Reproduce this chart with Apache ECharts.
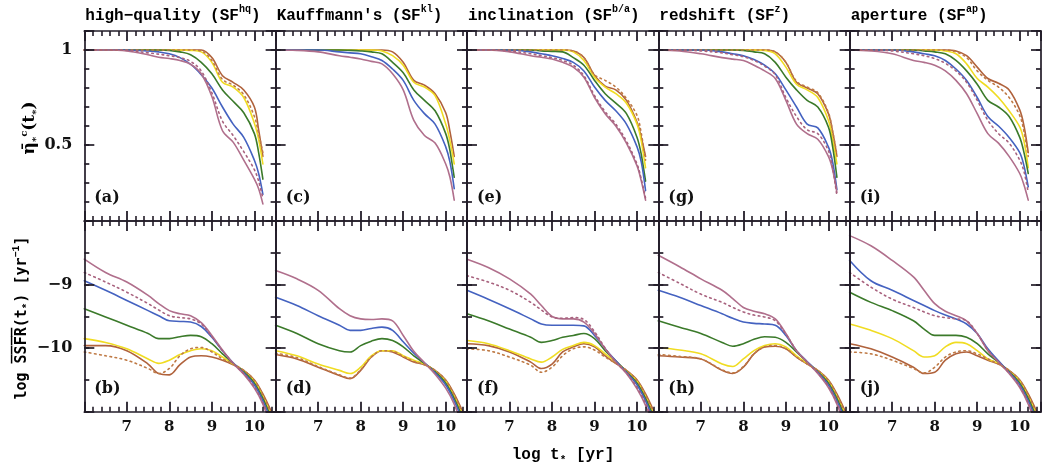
<!DOCTYPE html>
<html><head><meta charset="utf-8">
<script src="https://cdn.jsdelivr.net/npm/echarts@6/dist/echarts.min.js"></script>
<style>html,body{margin:0;padding:0;background:#fff}#c{width:1042px;height:470px}</style>
</head><body><div id="c"></div>
<script>
// ---------- DATA ----------
const TITLE_MAIN = ['high\u2212quality', "Kauffmann's", 'inclination', 'redshift', 'aperture'];
const TITLE_SUP = ['hq', 'kl', 'b/a', 'z', 'ap'];
const TOP_LETTERS = ['(a)', '(c)', '(e)', '(g)', '(i)'];
const BOT_LETTERS = ['(b)', '(d)', '(f)', '(h)', '(j)'];
const X_LABELS = [7, 8, 9, 10];
const TOP_Y_LABELS = [0.5, 1];
const BOT_Y_LABELS = [-10, -9];

const TOP_X = [6, 6.5, 7, 7.5, 7.75, 8, 8.25, 8.5, 8.75, 9, 9.25, 9.5, 9.75, 10, 10.1, 10.2];
const BOT_X = [6, 6.5, 7, 7.5, 7.75, 8, 8.25, 8.5, 8.75, 9, 9.25, 9.5, 9.75, 10, 10.2, 10.4];

// (a) high-quality, mass fraction
const a_mauve = [1,1,0.995,0.975,0.962,0.955,0.945,0.925,0.875,0.755,0.575,0.515,0.42,0.32,0.27,0.19];
const a_dotMauve = [1,1,0.998,0.985,0.978,0.97,0.96,0.94,0.89,0.775,0.625,0.55,0.465,0.37,0.31,0.22];
const a_blue = [1,1,1,0.995,0.99,0.98,0.96,0.925,0.87,0.80,0.70,0.61,0.54,0.42,0.35,0.24];
const a_green = [1,1,1,1,1,0.998,0.99,0.975,0.935,0.875,0.79,0.73,0.67,0.56,0.46,0.32];
const a_yellow = [1,1,1,1,1,1,1,0.998,0.99,0.935,0.83,0.805,0.75,0.615,0.53,0.40];
const a_dotOrange = [1,1,1,1,1,1,1,1,0.995,0.945,0.845,0.815,0.765,0.65,0.56,0.46];
const a_brown = [1,1,1,1,1,1,1,1,1,0.96,0.865,0.83,0.79,0.70,0.58,0.44];
// (c) Kauffmann's
const c_mauve = [1,0.998,0.99,0.97,0.962,0.953,0.94,0.927,0.875,0.79,0.63,0.55,0.51,0.40,0.33,0.21];
const c_blue = [1,1,1,0.99,0.985,0.98,0.965,0.945,0.90,0.84,0.735,0.665,0.61,0.49,0.41,0.27];
const c_green = [1,1,1,1,0.998,0.995,0.99,0.98,0.935,0.88,0.79,0.735,0.68,0.56,0.47,0.33];
const c_yellow = [1,1,1,1,1,1,1,0.995,0.97,0.92,0.83,0.805,0.76,0.61,0.52,0.40];
const c_brown = [1,1,1,1,1,1,1,1,0.99,0.935,0.84,0.815,0.77,0.67,0.57,0.44];
// (e) inclination
const e_mauve = [1,1,0.99,0.97,0.962,0.953,0.935,0.91,0.857,0.75,0.665,0.60,0.51,0.39,0.31,0.21];
const e_dotMauve = [1,1,0.995,0.98,0.97,0.96,0.945,0.92,0.865,0.76,0.675,0.61,0.52,0.40,0.32,0.22];
const e_blue = [1,1,1,0.99,0.98,0.97,0.955,0.935,0.89,0.805,0.735,0.68,0.61,0.49,0.41,0.26];
const e_green = [1,1,1,1,0.995,0.993,0.99,0.96,0.92,0.84,0.77,0.72,0.665,0.54,0.45,0.31];
const e_yellow = [1,1,1,1,1,1,1,0.99,0.945,0.857,0.805,0.77,0.72,0.61,0.52,0.38];
const e_dotOrange = [1,1,1,1,1,1,1,0.995,0.96,0.87,0.84,0.805,0.745,0.655,0.56,0.42];
const e_brown = [1,1,1,1,1,1,1,0.995,0.96,0.866,0.81,0.79,0.735,0.62,0.54,0.44];
// (g) redshift
const g_mauve = [1,0.995,0.98,0.96,0.952,0.945,0.92,0.89,0.85,0.735,0.61,0.56,0.53,0.44,0.37,0.25];
const g_dotMauve = [1,1,0.995,0.985,0.975,0.965,0.945,0.915,0.87,0.75,0.65,0.58,0.56,0.47,0.38,0.23];
const g_blue = [1,1,1,0.99,0.98,0.97,0.95,0.92,0.875,0.79,0.70,0.61,0.59,0.49,0.41,0.265];
const g_green = [1,1,1,1,1,0.998,0.99,0.98,0.935,0.857,0.79,0.735,0.70,0.595,0.49,0.33];
const g_yellow = [1,1,1,1,1,1,1,0.998,0.98,0.91,0.82,0.79,0.75,0.63,0.53,0.40];
const g_dotOrange = [1,1,1,1,1,1,1,1,0.99,0.935,0.835,0.805,0.775,0.67,0.57,0.45];
const g_brown = [1,1,1,1,1,1,1,1,0.99,0.935,0.83,0.80,0.77,0.665,0.57,0.44];
// (i) aperture
const i_mauve = [1,0.995,0.98,0.945,0.935,0.92,0.89,0.84,0.77,0.665,0.56,0.51,0.44,0.35,0.29,0.21];
const i_dotMauve = [1,1,0.995,0.98,0.97,0.955,0.93,0.89,0.83,0.735,0.63,0.56,0.51,0.42,0.36,0.25];
const i_blue = [1,1,1,0.99,0.98,0.97,0.945,0.90,0.84,0.75,0.65,0.60,0.54,0.46,0.39,0.28];
const i_green = [1,1,1,1,0.995,0.99,0.98,0.945,0.89,0.82,0.735,0.70,0.65,0.54,0.46,0.35];
const i_yellow = [1,1,1,1,1,1,0.995,0.98,0.927,0.85,0.805,0.75,0.68,0.595,0.52,0.38];
const i_dotOrange = [1,1,1,1,1,1,1,0.99,0.96,0.89,0.84,0.805,0.75,0.655,0.57,0.44];
const i_brown = [1,1,1,1,1,1,1,0.995,0.97,0.91,0.85,0.825,0.79,0.685,0.60,0.46];

// (b) high-quality, log SSFR
const b_mauve = [-8.60,-8.81,-8.96,-9.17,-9.30,-9.41,-9.46,-9.49,-9.60,-9.80,-10.03,-10.24,-10.41,-10.63,-10.88,-11.25];
const b_dotMauve = [-8.81,-8.96,-9.12,-9.30,-9.40,-9.49,-9.52,-9.54,-9.62,-9.82,-10.04,-10.24,-10.40,-10.61,-10.86,-11.20];
const b_blue = [-8.94,-9.09,-9.25,-9.41,-9.49,-9.57,-9.58,-9.59,-9.66,-9.83,-10.04,-10.23,-10.39,-10.58,-10.83,-11.15];
const b_green = [-9.38,-9.51,-9.64,-9.77,-9.85,-9.85,-9.82,-9.80,-9.82,-9.93,-10.09,-10.24,-10.37,-10.55,-10.79,-11.10];
const b_yellow = [-9.85,-9.91,-10.01,-10.17,-10.24,-10.19,-10.10,-10.04,-10.01,-10.04,-10.14,-10.25,-10.36,-10.52,-10.76,-11.05];
const b_dotOrange = [-10.06,-10.12,-10.19,-10.32,-10.40,-10.32,-10.12,-10.01,-9.99,-10.06,-10.17,-10.25,-10.35,-10.51,-10.74,-11.03];
const b_brown = [-9.96,-9.96,-10.04,-10.25,-10.40,-10.42,-10.26,-10.14,-10.12,-10.14,-10.19,-10.26,-10.35,-10.50,-10.72,-11.00];
// (d) Kauffmann's
const d_mauve = [-8.78,-8.91,-9.09,-9.38,-9.49,-9.54,-9.55,-9.54,-9.57,-9.80,-10.05,-10.23,-10.41,-10.63,-10.88,-11.25];
const d_blue = [-9.20,-9.33,-9.49,-9.64,-9.72,-9.72,-9.69,-9.67,-9.72,-9.90,-10.08,-10.23,-10.39,-10.58,-10.83,-11.15];
const d_green = [-9.64,-9.77,-9.93,-10.04,-10.06,-9.96,-9.89,-9.85,-9.88,-9.98,-10.12,-10.24,-10.37,-10.55,-10.79,-11.10];
const d_yellow = [-10.04,-10.12,-10.25,-10.35,-10.40,-10.30,-10.12,-10.04,-10.04,-10.12,-10.19,-10.25,-10.36,-10.52,-10.76,-11.05];
const d_dotOrange = [-10.08,-10.15,-10.29,-10.42,-10.47,-10.34,-10.14,-10.04,-10.05,-10.13,-10.21,-10.26,-10.35,-10.51,-10.74,-11.03];
const d_brown = [-10.10,-10.17,-10.30,-10.43,-10.48,-10.35,-10.14,-10.04,-10.06,-10.14,-10.22,-10.26,-10.35,-10.50,-10.72,-11.00];
// (f) inclination
const f_mauve = [-8.60,-8.73,-8.91,-9.15,-9.33,-9.50,-9.54,-9.54,-9.59,-9.77,-10.01,-10.22,-10.40,-10.64,-10.90,-11.25];
const f_dotMauve = [-8.86,-8.96,-9.09,-9.28,-9.40,-9.51,-9.53,-9.52,-9.55,-9.74,-10.00,-10.22,-10.39,-10.62,-10.87,-11.20];
const f_blue = [-9.09,-9.23,-9.38,-9.54,-9.62,-9.64,-9.64,-9.64,-9.65,-9.80,-10.01,-10.20,-10.38,-10.58,-10.83,-11.15];
const f_green = [-9.46,-9.57,-9.70,-9.83,-9.91,-9.88,-9.83,-9.80,-9.77,-9.85,-10.04,-10.20,-10.37,-10.55,-10.79,-11.10];
const f_yellow = [-9.88,-9.93,-10.04,-10.17,-10.22,-10.14,-10.02,-9.96,-9.91,-9.96,-10.09,-10.22,-10.36,-10.52,-10.76,-11.05];
const f_dotOrange = [-10.01,-10.04,-10.14,-10.27,-10.38,-10.30,-10.12,-10.01,-9.98,-10.03,-10.14,-10.24,-10.35,-10.51,-10.74,-11.03];
const f_brown = [-9.93,-9.96,-10.06,-10.22,-10.32,-10.25,-10.06,-9.98,-9.93,-9.98,-10.12,-10.24,-10.35,-10.50,-10.72,-11.00];
// (h) redshift
const h_mauve = [-8.54,-8.72,-8.91,-9.09,-9.22,-9.36,-9.42,-9.46,-9.54,-9.77,-10.04,-10.22,-10.40,-10.62,-10.88,-11.25];
const h_dotMauve = [-8.81,-8.98,-9.15,-9.28,-9.36,-9.43,-9.48,-9.51,-9.57,-9.78,-10.04,-10.22,-10.39,-10.60,-10.86,-11.20];
const h_blue = [-9.09,-9.20,-9.33,-9.46,-9.53,-9.59,-9.61,-9.62,-9.64,-9.80,-10.04,-10.21,-10.38,-10.58,-10.83,-11.15];
const h_green = [-9.57,-9.67,-9.77,-9.91,-9.97,-9.93,-9.86,-9.82,-9.83,-9.91,-10.06,-10.22,-10.37,-10.55,-10.79,-11.10];
const h_yellow = [-9.99,-10.03,-10.09,-10.25,-10.29,-10.17,-10.04,-9.96,-9.93,-9.98,-10.12,-10.24,-10.36,-10.52,-10.76,-11.05];
const h_dotOrange = [-10.10,-10.13,-10.17,-10.34,-10.39,-10.29,-10.09,-9.98,-9.96,-10.01,-10.14,-10.25,-10.35,-10.51,-10.74,-11.03];
const h_brown = [-10.12,-10.14,-10.17,-10.35,-10.40,-10.30,-10.09,-9.98,-9.97,-10.01,-10.14,-10.25,-10.35,-10.50,-10.72,-11.00];
// (j) aperture
const j_mauve = [-8.23,-8.39,-8.62,-8.88,-9.09,-9.30,-9.42,-9.49,-9.57,-9.77,-10.04,-10.22,-10.40,-10.62,-10.88,-11.25];
const j_dotMauve = [-8.81,-9.04,-9.23,-9.36,-9.43,-9.49,-9.52,-9.54,-9.57,-9.77,-10.03,-10.22,-10.39,-10.60,-10.86,-11.20];
const j_blue = [-8.62,-8.94,-9.09,-9.25,-9.33,-9.41,-9.48,-9.54,-9.62,-9.77,-10.01,-10.20,-10.38,-10.58,-10.83,-11.15];
const j_green = [-9.12,-9.28,-9.41,-9.57,-9.70,-9.80,-9.80,-9.80,-9.83,-9.93,-10.09,-10.22,-10.37,-10.55,-10.79,-11.10];
const j_yellow = [-9.62,-9.72,-9.85,-10.04,-10.14,-10.12,-9.98,-9.91,-9.93,-10.04,-10.17,-10.24,-10.36,-10.52,-10.76,-11.05];
const j_dotOrange = [-10.06,-10.09,-10.19,-10.32,-10.39,-10.30,-10.14,-10.06,-10.04,-10.09,-10.17,-10.25,-10.35,-10.51,-10.74,-11.03];
const j_brown = [-9.93,-10.01,-10.14,-10.30,-10.40,-10.38,-10.19,-10.09,-10.06,-10.12,-10.19,-10.25,-10.35,-10.50,-10.72,-11.00];

// ---------- BUILD ----------
const TOP_PANELS = [
  {brown:a_brown, dotOrange:a_dotOrange, yellow:a_yellow, green:a_green, blue:a_blue, mauve:a_mauve, dotMauve:a_dotMauve},
  {brown:c_brown, yellow:c_yellow, green:c_green, blue:c_blue, mauve:c_mauve},
  {brown:e_brown, dotOrange:e_dotOrange, yellow:e_yellow, green:e_green, blue:e_blue, mauve:e_mauve, dotMauve:e_dotMauve},
  {brown:g_brown, dotOrange:g_dotOrange, yellow:g_yellow, green:g_green, blue:g_blue, mauve:g_mauve, dotMauve:g_dotMauve},
  {brown:i_brown, dotOrange:i_dotOrange, yellow:i_yellow, green:i_green, blue:i_blue, mauve:i_mauve, dotMauve:i_dotMauve}
];
const BOT_PANELS = [
  {brown:b_brown, dotOrange:b_dotOrange, yellow:b_yellow, green:b_green, blue:b_blue, mauve:b_mauve, dotMauve:b_dotMauve},
  {brown:d_brown, dotOrange:d_dotOrange, yellow:d_yellow, green:d_green, blue:d_blue, mauve:d_mauve},
  {brown:f_brown, dotOrange:f_dotOrange, yellow:f_yellow, green:f_green, blue:f_blue, mauve:f_mauve, dotMauve:f_dotMauve},
  {brown:h_brown, dotOrange:h_dotOrange, yellow:h_yellow, green:h_green, blue:h_blue, mauve:h_mauve, dotMauve:h_dotMauve},
  {brown:j_brown, dotOrange:j_dotOrange, yellow:j_yellow, green:j_green, blue:j_blue, mauve:j_mauve, dotMauve:j_dotMauve}
];

const STYLE = {
  brown:     {color:'#b0623c', type:'solid'},
  dotOrange: {color:'#bf7a45', type:[1.6,3.6]},
  yellow:    {color:'#f0dc22', type:'solid'},
  green:     {color:'#3b7a2a', type:'solid'},
  blue:      {color:'#4462c0', type:'solid'},
  mauve:     {color:'#b06f8c', type:'solid'},
  dotMauve:  {color:'#a8627e', type:[1.6,3.6]}
};
const ORDER = ['brown','yellow','green','blue','mauve','dotOrange','dotMauve'];

const FRAME = '#221c28';
const L0 = 84.3, W = 191.34;
const ROW_TOP = [31, 221], ROW_H = [190, 190.7];
const LABEL_FONT = 'DejaVu Serif';
const MONO = 'Liberation Mono';

function mkX(gi, pos, labels) {
  return {
    type: 'value', gridIndex: gi, min: 6, max: 10.5, interval: 1, position: pos, z: 5,
    axisLine: {show: true, onZero: false, lineStyle: {color: FRAME, width: 1.7}},
    axisTick: {show: true, inside: true, length: 10, lineStyle: {color: FRAME, width: 1.8}},
    minorTick: {show: true, splitNumber: 5, length: 5, lineStyle: {color: FRAME, width: 1.6}},
    axisLabel: labels ? {show: true, customValues: labels, margin: 8, color: '#111',
      fontFamily: LABEL_FONT, fontWeight: 'bold', fontSize: 15} : {show: false},
    splitLine: {show: false}, minorSplitLine: {show: false}
  };
}
function mkY(gi, pos, min, max, interval, len, labels, showLine) {
  return {
    type: 'value', gridIndex: gi, min: min, max: max, interval: interval, position: pos, z: 5,
    axisLine: {show: showLine, onZero: false, lineStyle: {color: FRAME, width: 1.7}},
    axisTick: {show: true, inside: true, length: len, lineStyle: {color: FRAME, width: 1.7}},
    axisLabel: labels ? {show: true, customValues: labels, margin: 12, color: '#111',
      fontFamily: LABEL_FONT, fontWeight: 'bold', fontSize: 16,
      formatter: v => String(v).replace('-', '\u2212')} : {show: false},
    splitLine: {show: false}
  };
}

const grids = [], xAxes = [], yAxes = [], series = [], graphics = [];
for (let r = 0; r < 2; r++) {
  for (let c = 0; c < 5; c++) {
    const gi = grids.length;
    grids.push({left: L0 + c * W, top: ROW_TOP[r], width: W, height: ROW_H[r]});
    const xi = xAxes.length, yi = yAxes.length;
    xAxes.push(mkX(gi, 'bottom', (r === 1) ? X_LABELS : null));
    xAxes.push(mkX(gi, 'top', null));
    if (r === 0) {
      yAxes.push(mkY(gi, 'left', 0.1, 1.1, 0.1, 5, null, true));
      yAxes.push(mkY(gi, 'right', 0.1, 1.1, 0.1, 5, null, true));
    } else {
      const yLab = c === 0 ? BOT_Y_LABELS : null;
      yAxes.push(mkY(gi, 'left', -11, -8, 1, 10, yLab, true));
      yAxes.push(mkY(gi, 'right', -11, -8, 1, 10, null, true));
      yAxes.push(mkY(gi, 'left', -11, -8, 0.5, 5, null, false));
      yAxes.push(mkY(gi, 'right', -11, -8, 0.5, 5, null, false));
    }

    const panel = r === 0 ? TOP_PANELS[c] : BOT_PANELS[c];
    const X = r === 0 ? TOP_X : BOT_X;
    ORDER.forEach(key => {
      if (!panel[key]) return;
      const ys = panel[key];
      series.push({
        type: 'line', xAxisIndex: xi, yAxisIndex: yi, smooth: 0.35, showSymbol: false,
        lineStyle: {color: STYLE[key].color, width: 1.6, type: STYLE[key].type, cap: 'round'},
        data: X.map((x, k) => [x, ys[k]])
      });
    });

    graphics.push({type: 'text', left: L0 + c * W + 10, top: ROW_TOP[r] + ROW_H[r] - 31,
      style: {text: r === 0 ? TOP_LETTERS[c] : BOT_LETTERS[c], fill: '#111',
        font: 'bold 16px "DejaVu Serif"'}});
  }
}
// Top row major ticks at 0.5 and 1: overlay grid covering values 0.5..1.1 so the axis min is a multiple of 0.5
for (let c = 0; c < 5; c++) {
  const gi = grids.length;
  grids.push({left: L0 + c * W, top: ROW_TOP[0], width: W, height: ROW_H[0] * 0.6});
  xAxes.push({type: 'value', gridIndex: gi, min: 6, max: 10.5, show: false});
  yAxes.push(mkY(gi, 'left', 0.5, 1.1, 0.5, 10, c === 0 ? TOP_Y_LABELS : null, false));
  yAxes.push(mkY(gi, 'right', 0.5, 1.1, 0.5, 10, null, false));
}

const monoRich = {
  t: {fontFamily: MONO, fontWeight: 'bold', fontSize: 16, lineHeight: 20, verticalAlign: 'bottom', color: '#111'},
  s: {fontFamily: MONO, fontWeight: 'bold', fontSize: 10, lineHeight: 12, verticalAlign: 'top', color: '#111'}
};
for (let c = 0; c < 5; c++) {
  graphics.push({type: 'text', left: L0 + c * W + 1, top: 4,
    style: {text: '{t|' + TITLE_MAIN[c] + ' (SF}{s|' + TITLE_SUP[c] + '}{t|)}', rich: monoRich}});
}
graphics.push({type: 'text', x: 30, y: 128, rotation: Math.PI / 2,
  style: {text: '{e|\u03B7\u0304}{b|*}{s|c}{e|(t}{b|*}{e|)}', align: 'center', verticalAlign: 'middle',
    rich: {
      e: {fontFamily: 'DejaVu Serif', fontWeight: 'bold', fontSize: 17, lineHeight: 22, verticalAlign: 'middle', color: '#111'},
      s: {fontFamily: 'DejaVu Serif', fontWeight: 'bold', fontSize: 10, lineHeight: 12, verticalAlign: 'top', color: '#111'},
      b: {fontFamily: 'DejaVu Serif', fontWeight: 'bold', fontSize: 10, lineHeight: 12, verticalAlign: 'bottom', color: '#111'}
    }}});
graphics.push({type: 'text', x: 22, y: 318, rotation: Math.PI / 2,
  style: {text: '{m|log S\u0305S\u0305F\u0305R\u0305(t}{b|*}{m|) [yr}{s|\u22121}{m|]}', align: 'center', verticalAlign: 'middle',
    rich: {
      m: {fontFamily: 'DejaVu Sans Mono', fontWeight: 'bold', fontSize: 15, lineHeight: 22, verticalAlign: 'middle', color: '#111'},
      s: {fontFamily: MONO, fontWeight: 'bold', fontSize: 10, lineHeight: 12, verticalAlign: 'top', color: '#111'},
      b: {fontFamily: MONO, fontWeight: 'bold', fontSize: 11, lineHeight: 12, verticalAlign: 'bottom', color: '#111'}
    }}});
graphics.push({type: 'text', x: 563, y: 455,
  style: {text: '{m|log t}{b|*}{m| [yr]}', align: 'center', verticalAlign: 'middle',
    rich: {
      m: {fontFamily: MONO, fontWeight: 'bold', fontSize: 16, lineHeight: 22, verticalAlign: 'middle', color: '#111'},
      b: {fontFamily: MONO, fontWeight: 'bold', fontSize: 11, lineHeight: 12, verticalAlign: 'bottom', color: '#111'}
    }}});

const chart = echarts.init(document.getElementById('c'));
chart.setOption({
  animation: false,
  grid: grids, xAxis: xAxes, yAxis: yAxes, series: series, graphic: graphics
});
</script></body></html>
